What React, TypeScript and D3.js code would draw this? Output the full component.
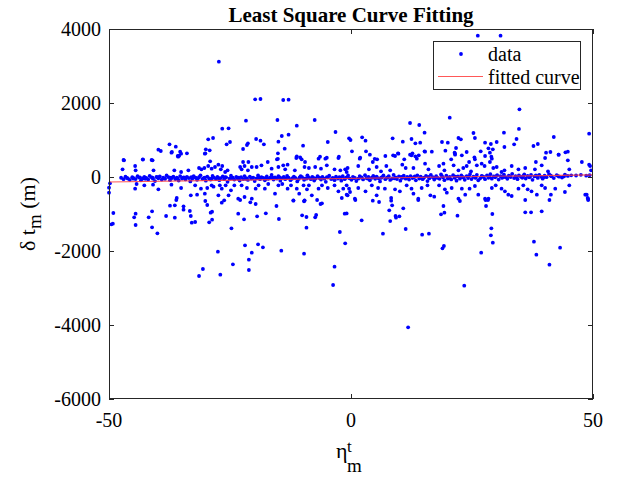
import React from "react";
import * as d3 from "d3";

const xTicks = [-50, 0, 50];
const yTicks = [4000, 2000, 0, -2000, -4000, -6000];
const xDomain = [-50, 50];
const yDomain = [-6000, 4000];
const titleText = "Least Square Curve Fitting";
const legendLabels = ["data", "fitted curve"];

// fitted straight line (endpoints)
const fitX = [-50, 50];
const fitY = [-135, 60];

// points far above the central band
const highPoints: [number, number][] = [
  [-27.3, 3116], [-19.8, 2100], [-18.7, 2108], [-21.7, 1522], [-26.6, 1306], [-25.3, 1316], [-29.5, 1019], [-28.5, 1054],
  [-19.6, 1027], [-18.7, 981], [-18.0, 883], [-25.7, 884], [-25.0, 946], [-21.3, 911], [-21.5, 865], [-22.3, 757],
  [-30.0, 749], [-29.2, 721], [-30.1, 640], [-37.5, 884], [-36.2, 819], [-39.8, 738], [-39.3, 703], [-37.0, 676],
  [-35.3, 684], [-35.1, 630], [-35.5, 576], [-35.7, 549], [-33.9, 640], [-47.0, 460], [-43.0, 470], [-41.2, 460],
  [-14.0, 2081], [-12.9, 2090], [-15.2, 1541], [-7.5, 1541], [-11.2, 1387], [12.2, 1460], [14.1, 1405], [-3.2, 1216],
  [15.2, 1198], [-15.0, 955], [-14.3, 1108], [-12.9, 1144], [-13.7, 765], [-9.9, 846], [-4.8, 946], [-0.4, 1045],
  [-0.1, 1000], [2.3, 1073], [3.0, 981], [0.2, 695], [3.1, 695], [3.9, 603], [8.6, 1045], [10.7, 955],
  [12.5, 1027], [13.3, 911], [14.3, 928], [9.7, 640], [8.7, 586], [7.1, 568], [12.2, 603], [12.7, 640],
  [13.3, 559], [14.0, 586], [15.2, 695], [-15.1, 640], [-15.1, 490], [-11.2, 560], [-10.5, 530], [-6.4, 550],
  [-5.0, 520], [-2.5, 550], [1.9, 520], [4.9, 490],
  [26.2, 3820], [30.9, 3820], [34.8, 1830], [20.4, 1603], [34.7, 1298], [31.6, 1198], [25.3, 1189], [25.6, 1054],
  [22.2, 1054], [22.7, 1019], [34.2, 1027], [41.9, 1081], [49.2, 1171], [18.8, 946], [20.0, 928], [27.7, 928],
  [28.9, 892], [28.4, 776], [29.3, 749], [30.1, 946], [33.7, 884], [31.7, 811], [37.7, 838], [38.6, 892],
  [19.5, 711], [21.7, 784], [21.4, 657], [21.5, 603], [22.9, 586], [23.9, 676], [25.5, 532], [26.8, 695],
  [28.7, 657], [29.0, 549], [15.3, 684], [16.7, 684], [40.3, 657], [41.2, 676], [42.9, 603], [44.3, 668],
  [44.8, 684], [49.2, 332],
];

// points far below the central band
const lowPoints: [number, number][] = [
  [-49.5, -1280], [-49.2, -1262], [-49.1, -973], [-44.8, -1090], [-44.5, -992], [-44.5, -1297], [-41.8, -1090], [-41.1, -928],
  [-41.1, -1360], [-40.0, -1522], [-38.2, -1054], [-37.4, -776], [-36.4, -765], [-36.4, -1100], [-36.1, -622], [-34.6, -793],
  [-34.6, -883], [-33.3, -919], [-33.1, -1054], [-32.9, -1235], [-32.2, -1216], [-30.1, -649], [-29.7, -757], [-29.0, -964],
  [-28.7, -937], [-29.3, -1225], [-28.7, -1154], [-31.4, -2676], [-30.6, -2487], [-27.5, -2019], [-27.0, -2641], [-26.7, -694],
  [-24.7, -1387], [-24.4, -2360], [-23.3, -992], [-22.9, -622], [-22.1, -1145], [-21.9, -1847], [-20.5, -2046], [-21.1, -2235],
  [-21.1, -2514], [-20.8, -685], [-19.7, -730], [-19.4, -1063], [-19.2, -1820], [-18.2, -1900], [-17.6, -982], [-15.4, -784],
  [-14.9, -1135], [-14.4, -1992], [-11.9, -640], [-9.7, -658], [-9.6, -640], [-7.0, -622], [-6.0, -712], [-6.3, -730],
  [-10.1, -1036], [-9.2, -1081], [-9.2, -1370], [-9.7, -2073], [-7.4, -1090], [-7.2, -1027], [-3.4, -2424], [-3.7, -2919],
  [-2.3, -1487], [-1.3, -992], [-0.9, -985], [-1.2, -1793],
  [0.9, -622], [4.5, -640], [5.8, -676], [8.3, -640], [8.5, -765], [2.2, -1171], [6.6, -1532], [7.9, -901],
  [8.1, -1190], [9.2, -1054], [9.3, -1100], [10.0, -1063], [10.8, -847], [11.3, -1405], [13.9, -622], [11.8, -4063],
  [14.7, -1559], [16.1, -1532], [18.6, -1009], [19.3, -964], [19.1, -784], [18.9, -1928], [19.2, -1865], [22.0, -1045],
  [22.5, -649], [23.4, -2937], [26.9, -2046], [27.9, -784], [27.8, -622], [28.3, -622], [29.2, -1000], [29.0, -1387],
  [28.9, -1576], [29.3, -1776], [36.0, -622], [36.0, -955], [37.2, -955], [39.4, -928], [37.8, -1749], [38.3, -2100],
  [41.0, -2370], [41.0, -622], [43.2, -1911], [49.0, -622], [48.7, -478], [49.0, -595],
  [-50.0, -289], [-50.0, -424], [-49.8, -170],
];

// sparse points just above the core band
const bandAbove: [number, number][] = [
  [-46.9, 450], [-47.2, 207], [-44.6, 297], [-44.5, 180], [-43.0, 478], [-41.0, 450], [-40.8, 180], [-37.1, 658],
  [-35.8, 568], [-36.5, 180], [-35.1, 135], [-33.6, 180], [-31.4, 243], [-30.9, 207], [-30.3, 243], [-30.2, 631],
  [-29.5, 297], [-29.1, 423], [-28.8, 225], [-28.1, 270], [-27.4, 333], [-26.9, 207], [-26.6, 297], [-26.0, 135],
  [-25.5, 180], [-22.9, 270], [-22.6, 207], [-22.3, 405], [-22.0, 297], [-21.2, 405], [-21.3, 180], [-20.5, 270],
  [-19.5, 270], [-18.5, 315], [-17.2, 405], [-16.4, 225], [-15.3, 478], [-15.0, 270], [-14.0, 315], [-13.6, 207],
  [-13.1, 333], [-11.6, 180], [-11.3, 513], [-10.2, 478], [-9.6, 270], [-9.5, 405], [-8.7, 243], [-7.4, 270],
  [-6.7, 495], [-6.2, 225], [-5.3, 495], [-5.0, 315], [-3.4, 207], [-2.6, 513], [-2.2, 180], [-1.2, 207],
  [-0.9, 135], [-0.7, 243], [1.5, 297], [1.8, 495], [3.7, 207], [4.5, 405], [5.3, 270], [5.4, 478],
  [6.2, 153], [7.3, 297], [8.1, 180], [9.1, 568], [9.8, 631], [10.6, 333], [11.0, 478], [11.3, 243],
  [12.5, 586], [12.9, 243], [13.6, 495], [15.3, 360], [16.0, 207], [18.2, 297], [19.1, 360], [19.3, 180],
  [20.7, 478], [21.2, 315], [21.5, 631], [22.2, 180], [23.2, 243], [23.9, 297], [24.4, 405], [24.8, 153],
  [25.6, 478], [26.0, 315], [27.0, 360], [27.6, 297], [27.7, 568], [28.7, 405], [29.1, 495], [29.4, 243],
  [30.1, 270], [31.1, 135], [31.7, 180], [33.2, 297], [34.6, 207], [36.0, 243], [38.0, 207], [38.2, 405],
  [39.4, 315], [40.1, 513], [40.7, 153], [42.9, 604], [44.8, 450], [45.1, 207], [47.7, 405], [49.4, 297],
  [49.6, 180],
];

// sparse points just below the core band
const bandBelow: [number, number][] = [
  [-44.6, -315], [-44.3, -189], [-42.7, -225], [-39.8, -333], [-40.9, -207], [-37.1, -207], [-36.0, -568], [-35.1, -297],
  [-33.1, -495], [-32.2, -225], [-31.8, -477], [-31.0, -315], [-30.2, -450], [-29.7, -297], [-28.8, -225], [-28.4, -261],
  [-27.4, -495], [-27.1, -225], [-26.7, -315], [-26.2, -631], [-25.9, -225], [-25.3, -495], [-24.8, -360], [-24.1, -225],
  [-23.3, -586], [-22.6, -225], [-22.0, -541], [-21.5, -297], [-20.5, -586], [-19.7, -315], [-19.1, -225], [-17.8, -315],
  [-17.1, -189], [-15.7, -450], [-15.0, -225], [-14.2, -189], [-13.1, -315], [-12.4, -225], [-11.9, -631], [-11.2, -315],
  [-10.7, -450], [-9.8, -225], [-9.6, -631], [-9.1, -333], [-8.7, -225], [-8.1, -495], [-6.7, -315], [-6.0, -225],
  [-4.8, -297], [-3.4, -225], [-2.6, -387], [-1.9, -568], [-1.6, -315], [-0.9, -225], [-0.7, -495], [-0.2, -405],
  [-0.9, -477], [0.8, -586], [-0.4, -315], [1.5, -297], [3.0, -387], [4.3, -225], [5.3, -495], [5.6, -297],
  [7.0, -315], [8.3, -568], [9.1, -333], [10.1, -387], [11.5, -225], [12.5, -315], [12.9, -450], [13.9, -586],
  [14.6, -297], [15.8, -225], [16.4, -495], [17.2, -531], [18.2, -225], [19.4, -333], [19.8, -423], [20.8, -297],
  [22.2, -586], [22.9, -315], [23.6, -477], [24.5, -315], [25.6, -243], [26.3, -477], [27.7, -586], [28.4, -586],
  [29.1, -297], [29.9, -225], [31.1, -315], [31.8, -387], [32.5, -477], [33.2, -513], [34.6, -315], [35.6, -225],
  [36.5, -333], [37.3, -387], [38.4, -477], [39.4, -225], [40.1, -297], [41.3, -477], [42.2, -315], [44.2, -405],
  [45.1, -225], [48.4, -477], [48.9, -568],
];

// dense core band around zero
const corePoints: [number, number][] = [
  [-47.5, -20], [-47.0, -60], [-46.6, 10], [-46.1, -40], [-45.7, -75], [-45.2, -5], [-44.9, -30], [-44.5, -55], [-44.1, 20], [-43.8, -15],
  [-43.4, -90], [-43.0, -40], [-42.7, 5], [-42.3, -25], [-41.9, -65], [-41.6, 30], [-41.2, -10], [-40.9, -45], [-40.5, -110], [-40.2, 0],
  [-39.8, -35], [-39.5, 15], [-39.1, -70], [-38.8, -20], [-38.4, -50], [-38.1, 40], [-37.7, -5], [-37.4, -85], [-37.0, -30], [-36.7, 10],
  [-36.3, -55], [-36.0, -15], [-35.6, -95], [-35.3, 25], [-34.9, -40], [-34.6, -10], [-34.2, -65], [-33.9, 5], [-33.5, -30], [-33.2, -120],
  [-32.8, -45], [-32.5, 20], [-32.1, -20], [-31.8, -75], [-31.4, -5], [-31.1, 45], [-30.7, -50], [-30.4, -25], [-30.0, -100], [-29.7, 10],
  [-29.3, -40], [-29.0, -70], [-28.6, 30], [-28.3, -15], [-27.9, -55], [-27.6, 0], [-27.2, -85], [-26.9, -30], [-26.5, 15], [-26.2, -60],
  [-25.8, -10], [-25.5, -130], [-25.1, -45], [-24.8, 35], [-24.4, -20], [-24.1, -70], [-23.7, 5], [-23.4, -40], [-23.0, -95], [-22.7, -5],
  [-22.3, -55], [-22.0, 25], [-21.6, -30], [-21.3, -80], [-20.9, 10], [-20.6, -45], [-20.2, -15], [-19.9, -110], [-19.5, -35], [-19.2, 40],
  [-18.8, -60], [-18.5, -5], [-18.1, -25], [-17.8, -90], [-17.4, 15], [-17.1, -50], [-16.7, -20], [-16.4, 55], [-16.0, -70], [-15.7, -10],
  [-15.3, -40], [-15.0, 20], [-14.6, -100], [-14.3, -30], [-13.9, 0], [-13.6, -60], [-13.2, 30], [-12.9, -15], [-12.5, -85], [-12.2, -45],
  [-11.8, 10], [-11.5, -25], [-11.1, -120], [-10.8, -55], [-10.4, 20], [-10.1, -5], [-9.7, -75], [-9.4, -35], [-9.0, 45], [-8.7, -15],
  [-8.3, -60], [-8.0, 5], [-7.6, -95], [-7.3, -40], [-6.9, 25], [-6.6, -20], [-6.2, -70], [-5.9, 0], [-5.5, -45], [-5.2, -130],
  [-4.8, -10], [-4.5, 35], [-4.1, -55], [-3.8, -25], [-3.4, -85], [-3.1, 10], [-2.7, -40], [-2.4, -5], [-2.0, -100], [-1.7, 20],
  [-1.3, -60], [-1.0, -15], [-0.6, 40], [-0.3, -35], [0.1, -75], [0.4, 5], [0.8, -25], [1.1, -110], [1.5, -45], [1.8, 25],
  [2.2, -10], [2.5, -65], [2.9, 50], [3.2, -30], [3.6, 0], [3.9, -90], [4.3, -20], [4.6, 30], [5.0, -50], [5.3, 10],
  [5.7, -35], [6.0, -120], [6.4, -5], [6.7, 40], [7.1, -60], [7.4, -15], [7.8, 20], [8.1, -80], [8.5, -40], [8.8, 60],
  [9.2, -10], [9.5, -55], [9.9, 15], [10.2, -100], [10.6, -25], [10.9, 35], [11.3, -45], [11.6, 0], [12.0, -70], [12.3, 25],
  [12.7, -30], [13.0, -5], [13.4, -90], [13.7, 45], [14.1, -40], [14.4, 10], [14.8, -60], [15.1, -15], [15.5, 30], [15.8, -110],
  [16.2, -35], [16.5, 55], [16.9, -5], [17.2, -70], [17.6, 20], [17.9, -25], [18.3, -50], [18.6, 70], [19.0, -10], [19.3, -85],
  [19.7, 35], [20.0, -40], [20.4, 5], [20.7, -65], [21.1, 50], [21.4, -20], [21.8, -100], [22.1, 15], [22.5, -45], [22.8, 40],
  [23.2, -5], [23.5, -75], [23.9, 25], [24.2, -30], [24.6, 80], [24.9, -55], [25.3, 10], [25.6, -15], [26.0, 60], [26.3, -90],
  [26.7, -35], [27.0, 30], [27.4, 0], [27.7, -60], [28.1, 45], [28.4, -20], [28.8, 75], [29.1, -45], [29.5, 15], [29.8, -10],
  [30.2, 50], [30.5, -70], [30.9, 20], [31.2, -25], [31.6, 65], [31.9, -5], [32.3, -50], [32.6, 35], [33.0, 0], [33.3, 85],
  [33.7, -30], [34.0, 25], [34.4, -60], [34.7, 45], [35.1, 5], [35.4, -20], [35.8, 70], [36.1, -40], [36.5, 30], [36.8, -10],
  [37.2, 55], [37.5, -75], [37.9, 15], [38.2, 40], [38.6, -25], [38.9, 60], [39.3, 5], [39.6, -45], [40.0, 35], [40.4, -5],
  [40.9, 80], [41.4, 20], [41.9, -30], [42.5, 50], [43.0, 10], [43.6, -15], [44.2, 65], [44.8, 30], [45.5, 45], [46.5, 40],
  [47.5, 60], [48.6, 35], [49.3, 50],
  [-46.3, -25], [-45.0, -45], [-43.6, -10], [-42.5, -50], [-41.0, -20], [-39.9, -5], [-38.6, -35], [-37.2, -15], [-35.8, -40], [-34.4, -20],
  [-33.0, -5], [-31.6, -35], [-30.2, -15], [-28.8, -45], [-27.4, -25], [-26.0, -5], [-24.6, -35], [-23.2, -15], [-21.8, -50], [-20.4, -25],
  [-19.0, -10], [-17.6, -40], [-16.2, -20], [-14.8, -5], [-13.4, -35], [-12.0, -25], [-10.6, -10], [-9.2, -45], [-7.8, -20], [-6.4, -30],
  [-5.0, -5], [-3.6, -40], [-2.2, -20], [-0.8, -10], [0.6, -30], [2.0, -15], [3.4, -40], [4.8, -5], [6.2, -25], [7.6, -10],
  [9.0, -35], [10.4, 0], [11.8, -20], [13.2, 15], [14.6, -30], [16.0, 5], [17.4, -15], [18.8, 20], [20.2, -25], [21.6, 10],
  [23.0, -10], [24.4, 25], [25.8, -20], [27.2, 15], [28.6, -5], [30.0, 25], [31.4, 0], [32.8, 20], [34.2, -10], [35.6, 30],
  [37.0, 5], [38.4, 20], [39.8, -10], [41.2, 40], [42.8, 25], [44.0, 15],
];

const W = 618;
const H = 477;
const L = 109, R = 593, T = 29, B = 399;
const FONT = "'Liberation Serif', 'Times New Roman', Times, serif";
const AXIS = "#262626";
const BLUE = "#0000ff";
const RED = "#ff3b3b";

export default function App() {
  const x = d3.scaleLinear().domain(xDomain).range([L, R]);
  const y = d3.scaleLinear().domain(yDomain).range([B, T]);
  const all = [...corePoints, ...bandAbove, ...bandBelow, ...highPoints, ...lowPoints];
  const line = d3.line<number>().x((d) => x(fitX[d])).y((d) => y(fitY[d]));
  const tickLen = 5;
  const dotR = 1.9;

  return (
    <div style={{ position: "absolute", left: 0, top: 0, width: W, height: H, background: "#fff" }}>
      <svg width={W} height={H} style={{ display: "block" }} fontFamily={FONT}>
        <rect x={0} y={0} width={W} height={H} fill="#fff" />
        <rect x={L} y={T} width={R - L} height={B - T} fill="#fff" />
        <g>
          {all.map((p, i) => (
            <circle key={i} cx={x(p[0])} cy={y(p[1])} r={dotR} fill={BLUE} />
          ))}
        </g>
        <path d={line([0, 1]) || ""} fill="none" stroke={RED} strokeWidth={1.2} strokeOpacity={0.85} />
        {/* box */}
        <rect x={L + 0.5} y={T + 0.5} width={R - L - 1} height={B - T - 1} fill="none" stroke={AXIS} strokeWidth={1} />
        {/* x ticks */}
        {xTicks.map((t) => (
          <g key={"x" + t}>
            <line x1={Math.round(x(t)) + 0.5} x2={Math.round(x(t)) + 0.5} y1={B} y2={B - tickLen} stroke={AXIS} />
            <line x1={Math.round(x(t)) + 0.5} x2={Math.round(x(t)) + 0.5} y1={T} y2={T + tickLen} stroke={AXIS} />
            <text x={x(t)} y={427} textAnchor="middle" fontSize={20} fill="#000">{t}</text>
          </g>
        ))}
        {/* y ticks */}
        {yTicks.map((t) => (
          <g key={"y" + t}>
            <line x1={L} x2={L + tickLen} y1={Math.round(y(t)) + 0.5} y2={Math.round(y(t)) + 0.5} stroke={AXIS} />
            <line x1={R} x2={R - tickLen} y1={Math.round(y(t)) + 0.5} y2={Math.round(y(t)) + 0.5} stroke={AXIS} />
            <text x={101} y={y(t) + 7} textAnchor="end" fontSize={20} fill="#000">{t}</text>
          </g>
        ))}
        {/* title */}
        <text x={(L + R) / 2} y={22} textAnchor="middle" fontSize={21} fontWeight="bold" fill="#000">{titleText}</text>
        {/* y label */}
        <g transform={`translate(35, ${(T + B) / 2}) rotate(-90)`}>
          <text x={0} y={0} textAnchor="middle" fontSize={22} fill="#000">
            <tspan>{"\u03b4 t"}</tspan>
            <tspan fontSize={19} dy={6}>m</tspan>
            <tspan dy={-6}>{"\u00a0(m)"}</tspan>
          </text>
        </g>
        {/* x label */}
        <text x={336} y={458} fontSize={22} fill="#000">{"\u03b7"}</text>
        <text x={347} y={452} fontSize={17} fill="#000">t</text>
        <text x={347} y={472} fontSize={19} fill="#000">m</text>
        {/* legend */}
        <rect x={433.5} y={41.5} width={147} height={48} fill="#fff" stroke={AXIS} strokeWidth={1} />
        <circle cx={461} cy={54} r={dotR} fill={BLUE} />
        <text x={488} y={61} fontSize={20} fill="#000">{legendLabels[0]}</text>
        <line x1={438} x2={483} y1={76.5} y2={76.5} stroke={RED} strokeWidth={1.2} strokeOpacity={0.85} />
        <text x={488} y={84} fontSize={20} fill="#000">{legendLabels[1]}</text>
      </svg>
    </div>
  );
}
